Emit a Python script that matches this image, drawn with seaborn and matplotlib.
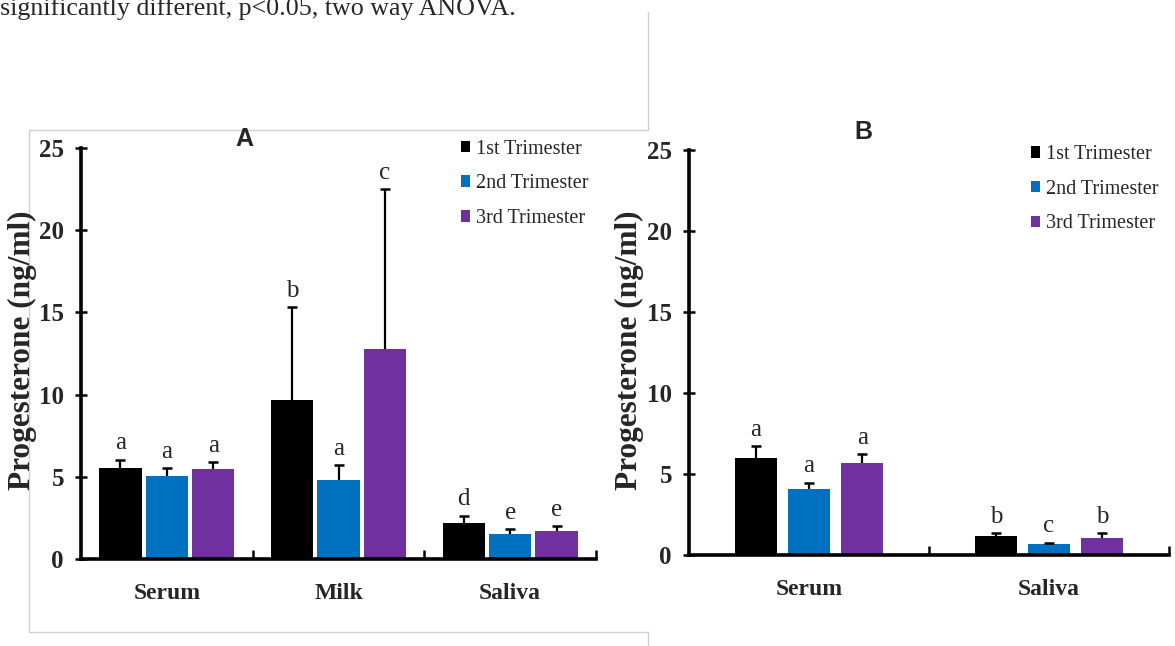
import numpy as np
import pandas as pd
import matplotlib
matplotlib.use("Agg")
import matplotlib.pyplot as plt
from matplotlib.lines import Line2D
import seaborn as sns

# ---------------------------------------------------------------- data
trimesters = ["1st Trimester", "2nd Trimester", "3rd Trimester"]
colors = ["#000000", "#0070C0", "#7030A0"]

samples_a = ["Serum", "Milk", "Saliva"]
mean_a = [[5.55, 5.05, 5.45],    # serum  (1st, 2nd, 3rd)
          [9.7, 4.8, 12.8],      # milk
          [2.2, 1.55, 1.7]]      # saliva
se_a = [[0.47, 0.47, 0.43],
        [5.6, 0.9, 9.7],
        [0.42, 0.25, 0.28]]
letters_a = [["a", "a", "a"], ["b", "a", "c"], ["d", "e", "e"]]

samples_b = ["Serum", "Saliva"]
mean_b = [[6.0, 4.05, 5.7],
          [1.15, 0.65, 1.03]]
se_b = [[0.72, 0.4, 0.52],
        [0.19, 0.1, 0.3]]
letters_b = [["a", "a", "a"], ["b", "c", "b"]]

yticks = [0, 5, 10, 15, 20, 25]

W, H = 1175, 646

sns.set_style("white")
plt.rcParams["font.family"] = ["Liberation Serif", "DejaVu Serif"]
SERIF = "Liberation Serif"
SANS = "Liberation Sans"


def to_long(samples, means, ses):
    rows = []
    for i, s in enumerate(samples):
        for j, t in enumerate(trimesters):
            rows.append({"sample": s, "trimester": t, "value": means[i][j], "se": ses[i][j]})
    return pd.DataFrame(rows)


def panel(ax, samples, means, ses, letters, width, gap, title, title_xy, leg_xy, ylab_x):
    df = to_long(samples, means, ses)
    sns.barplot(data=df, x="sample", y="value", hue="trimester", hue_order=trimesters,
                palette=colors, saturation=1, width=width, gap=gap, errorbar=None,
                linewidth=0, ax=ax)

    # upper-only error bars (no cap at the bar top) + significance letters
    bar_groups = list(ax.containers)
    for j, cont in enumerate(bar_groups):
        for i, bar in enumerate(cont.patches):
            x = bar.get_x() + bar.get_width() / 2
            m = means[i][j]
            e = ses[i][j]
            ax.vlines(x, m, m + e, color="black", lw=1.6, zorder=3)
            ax.plot([x], [m + e], marker="_", markersize=7, mew=1.8, color="black", zorder=3)
            ax.annotate(letters[i][j], (x, m + e), xytext=(0, 4), textcoords="offset points",
                        ha="center", va="bottom", fontsize=18, family=SERIF)

    n = len(samples)
    ax.set_xlim(-0.5, n - 0.5)
    ax.set_ylim(0, 25)
    ax.set_yticks(yticks)
    ax.set_yticklabels([str(v) for v in yticks], fontsize=18, fontweight="bold", family=SERIF)
    ax.set_xticks(range(n))
    ax.set_xticklabels(samples, fontsize=17, fontweight="bold", family=SERIF)
    ax.set_xticks(np.arange(0.5, n, 1), minor=True)
    ax.tick_params(axis="x", which="major", length=0, pad=17)
    ax.tick_params(axis="x", which="minor", direction="in", length=6.5, width=1.8,
                   color="black", bottom=True)
    ax.tick_params(axis="y", which="major", direction="inout", length=8.6, width=1.8,
                   color="black", left=True, pad=8)
    ax.set_xlabel("")
    ax.set_ylabel("")
    for side in ["top", "right"]:
        ax.spines[side].set_visible(False)
    for side in ["left", "bottom"]:
        ax.spines[side].set_linewidth(2.6)
        ax.spines[side].set_color("black")

    handles, labels = ax.get_legend_handles_labels()
    if ax.get_legend() is not None:
        ax.get_legend().remove()
    fig.legend(handles, labels, loc="upper left",
               bbox_to_anchor=(leg_xy[0] / W, 1 - leg_xy[1] / H),
               frameon=False, borderpad=0, borderaxespad=0, handlelength=0.45,
               handleheight=0.5, handletextpad=0.3, labelspacing=0.78,
               prop={"family": SERIF, "size": 14.5})

    fig.text(title_xy[0] / W, 1 - title_xy[1] / H, title, ha="center", va="center",
             fontsize=18, fontweight="bold", family=SANS)
    fig.text(ylab_x / W, 1 - 350 / H, "Progesterone (ng/ml)",
             rotation=90, ha="center", va="center", fontsize=22.5, fontweight="bold",
             family=SERIF)


fig = plt.figure(figsize=(W / 100, H / 100), dpi=100)
fig.patch.set_facecolor("white")

# caption fragment at top of page (cut off by the page edge)
fig.text(0, 1 - 15.5 / H, "significantly different, p<0.05, two way ANOVA.",
         ha="left", va="baseline", fontsize=18.7, family=SERIF)

# grey frame around panel A
def fline(x0, y0, x1, y1):
    fig.add_artist(Line2D([x0 / W, x1 / W], [1 - y0 / H, 1 - y1 / H],
                          transform=fig.transFigure, color="#d0d0d0", lw=1))

fline(29, 130, 648, 130)
fline(29, 130, 29, 632)
fline(29, 632, 648, 632)
fline(648, 12, 648, 130)
fline(648, 632, 648, 646)

ax_a = fig.add_axes([81 / W, 1 - 559 / H, (596 - 81) / W, (559 - 148) / H])
panel(ax_a, samples_a, mean_a, se_a, letters_a, width=0.81, gap=0.09,
      title="A", title_xy=(244, 139), leg_xy=(461, 139.5), ylab_x=22)

ax_b = fig.add_axes([689 / W, 1 - 555 / H, (1169 - 689) / W, (555 - 150) / H])
panel(ax_b, samples_b, mean_b, se_b, letters_b, width=0.665, gap=0.22,
      title="B", title_xy=(863, 132), leg_xy=(1031, 145), ylab_x=629)

fig.savefig("out.png", dpi=100, facecolor="white")
